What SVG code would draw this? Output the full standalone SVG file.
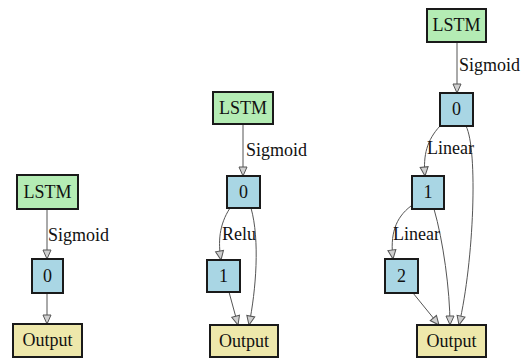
<svg xmlns="http://www.w3.org/2000/svg" width="530" height="359" viewBox="0 0 530 359">
  <style>
    .node rect { stroke: #1a1a1a; stroke-width: 2; }
    .lstm rect { fill: #b4ecb4; }
    .layer rect { fill: #a9d6e4; }
    .out rect { fill: #eee8ab; }
    text { font-family: "Liberation Serif", "DejaVu Serif", serif; font-size: 18px; fill: #111; }
    .node text { text-anchor: middle; }
    .edge { fill: none; stroke: #555; stroke-width: 1; marker-end: url(#arrow); }
  </style>
  <defs>
    <marker id="arrow" markerUnits="userSpaceOnUse" markerWidth="12" markerHeight="12" viewBox="0 0 12 12" refX="10" refY="6" orient="auto">
      <path d="M1,2 L10,6 L1,10 Z" fill="#d0d0d0" stroke="#555" stroke-width="1"/>
    </marker>
  </defs>
  <rect width="530" height="359" fill="#ffffff"/>

  <g id="connectors">
    <!-- graph A -->
    <path class="edge" d="M47,209 L47,259"/>
    <path class="edge" d="M47,293 L47,324"/>
    <!-- graph B -->
    <path class="edge" d="M243,124 L243,176"/>
    <path class="edge" d="M230,208 C219,225 218,242 221,260"/>
    <path class="edge" d="M251,208 C260,240 256,290 249,325"/>
    <path class="edge" d="M229,292 L238,325"/>
    <!-- graph C -->
    <path class="edge" d="M457,42 L457,93"/>
    <path class="edge" d="M440,126 C427,140 423,155 425,176"/>
    <path class="edge" d="M466,126 C478,150 474,260 459,325"/>
    <path class="edge" d="M434,209 C443,240 450,290 450,325"/>
    <path class="edge" d="M411,206 C395,218 390,235 393,259"/>
    <path class="edge" d="M413,293 L439,325"/>
  </g>

  <g id="labels">
    <text x="48" y="241">Sigmoid</text>
    <text x="246" y="156">Sigmoid</text>
    <text x="222" y="240">Relu</text>
    <text x="459" y="71">Sigmoid</text>
    <text x="427" y="154">Linear</text>
    <text x="393" y="240">Linear</text>
  </g>

  <!-- graph A -->
  <g id="a-lstm" class="node lstm"><rect x="17" y="175" width="61" height="34"/><text x="47.5" y="198">LSTM</text></g>
  <g id="a-0" class="node layer"><rect x="32" y="259" width="31" height="34"/><text x="47.5" y="282">0</text></g>
  <g id="a-output" class="node out"><rect x="13" y="324" width="69" height="33"/><text x="47.5" y="346">Output</text></g>

  <!-- graph B -->
  <g id="b-lstm" class="node lstm"><rect x="213" y="92" width="60" height="32"/><text x="243" y="114">LSTM</text></g>
  <g id="b-0" class="node layer"><rect x="227" y="176" width="33" height="32"/><text x="243.5" y="198">0</text></g>
  <g id="b-1" class="node layer"><rect x="207" y="260" width="33" height="32"/><text x="223.5" y="282">1</text></g>
  <g id="b-output" class="node out"><rect x="210" y="325" width="68" height="32"/><text x="244" y="347">Output</text></g>

  <!-- graph C -->
  <g id="c-lstm" class="node lstm"><rect x="427" y="9" width="59" height="33"/><text x="456.5" y="31">LSTM</text></g>
  <g id="c-0" class="node layer"><rect x="440" y="93" width="33" height="33"/><text x="456.5" y="115">0</text></g>
  <g id="c-1" class="node layer"><rect x="412" y="176" width="32" height="33"/><text x="428" y="198">1</text></g>
  <g id="c-2" class="node layer"><rect x="385" y="259" width="33" height="34"/><text x="401.5" y="282">2</text></g>
  <g id="c-output" class="node out"><rect x="417" y="325" width="69" height="32"/><text x="451.5" y="347">Output</text></g>
</svg>
